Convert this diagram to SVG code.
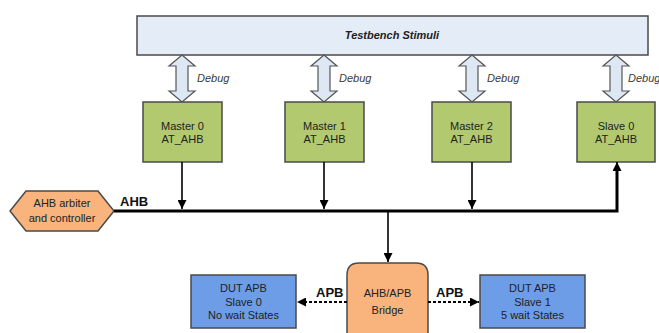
<svg xmlns="http://www.w3.org/2000/svg" width="659" height="333" viewBox="0 0 659 333">
<defs>
<style>
text{font-family:"Liberation Sans",Arial,sans-serif;fill:#222;}
.box{stroke:#4a4a4a;stroke-width:1.5;}
.green{fill:#b2c970;}
.blue{fill:#6d9de6;}
.orange{fill:#f8b47c;}
.lbl{font-size:11px;text-anchor:middle;}
.dbg{font-size:11px;font-style:italic;fill:#3a3a3a;}
.bold{font-size:13px;font-weight:bold;fill:#111;}
.dbl{fill:#dde8f4;stroke:#555;stroke-width:1.2;}
.wire{stroke:#000;stroke-width:1.6;fill:none;}
.dash{stroke:#000;stroke-width:2;stroke-dasharray:3,2;fill:none;}
</style>
<marker id="ah2" viewBox="0 0 10 10" refX="10" refY="5" markerWidth="9" markerHeight="9" markerUnits="userSpaceOnUse" orient="auto">
<path d="M0,0 L10,5 L0,10 z" fill="#000"/>
</marker>
<path id="darrow" d="M0,0 L13,11 L6,11 L6,36 L13,36 L0,47 L-13,36 L-6,36 L-6,11 L-13,11 z"/>
</defs>

<g id="testbench">
<rect class="box" x="137" y="16" width="511" height="39" fill="#e4ecf7"/>
<text x="392" y="39" font-size="11" font-weight="bold" font-style="italic" text-anchor="middle">Testbench Stimuli</text>
</g>

<g id="debug-links">
<use href="#darrow" class="dbl" x="182" y="55"/>
<use href="#darrow" class="dbl" x="324" y="55"/>
<use href="#darrow" class="dbl" x="472" y="55"/>
<use href="#darrow" class="dbl" x="616" y="55"/>
<text class="dbg" x="197" y="82">Debug</text>
<text class="dbg" x="339" y="82">Debug</text>
<text class="dbg" x="487" y="82">Debug</text>
<text class="dbg" x="628" y="82">Debug</text>
</g>

<g id="master0">
<rect class="box green" x="143" y="102" width="79" height="60"/>
<text class="lbl" x="182.5" y="130">Master 0</text>
<text class="lbl" x="182.5" y="143">AT_AHB</text>
</g>
<g id="master1">
<rect class="box green" x="285" y="102" width="79" height="60"/>
<text class="lbl" x="324.5" y="130">Master 1</text>
<text class="lbl" x="324.5" y="143">AT_AHB</text>
</g>
<g id="master2">
<rect class="box green" x="432" y="102" width="79" height="60"/>
<text class="lbl" x="471.5" y="130">Master 2</text>
<text class="lbl" x="471.5" y="143">AT_AHB</text>
</g>
<g id="slave0">
<rect class="box green" x="577" y="102" width="78" height="60"/>
<text class="lbl" x="616" y="130">Slave 0</text>
<text class="lbl" x="616" y="143">AT_AHB</text>
</g>

<g id="arbiter">
<polygon class="box orange" points="10,211 26,191 98,191 114,211 98,231 26,231"/>
<text class="lbl" x="62" y="207">AHB arbiter</text>
<text class="lbl" x="62" y="222">and controller</text>
</g>

<g id="bridge">
<path class="box orange" d="M347,340 L347,275 Q347,263 359,263 L416,263 Q428,263 428,275 L428,340"/>
<text class="lbl" x="387.5" y="297">AHB/APB</text>
<text class="lbl" x="387.5" y="314">Bridge</text>
</g>

<g id="dut0">
<rect class="box blue" x="191" y="275" width="105" height="53"/>
<text class="lbl" x="243.5" y="292">DUT APB</text>
<text class="lbl" x="243.5" y="306">Slave 0</text>
<text class="lbl" x="243.5" y="319">No wait States</text>
</g>
<g id="dut1">
<rect class="box blue" x="480" y="275" width="105" height="53"/>
<text class="lbl" x="532.5" y="292">DUT APB</text>
<text class="lbl" x="532.5" y="306">Slave 1</text>
<text class="lbl" x="532.5" y="319">5 wait States</text>
</g>

<g id="connectors">
<polyline points="114,211 617,211 617,170" stroke="#000" stroke-width="3" fill="none"/>
<line x1="617" y1="175" x2="617" y2="162" class="wire" marker-end="url(#ah2)"/>
<line class="wire" x1="182" y1="162" x2="182" y2="209" marker-end="url(#ah2)"/>
<line class="wire" x1="324" y1="162" x2="324" y2="209" marker-end="url(#ah2)"/>
<line class="wire" x1="472" y1="162" x2="472" y2="209" marker-end="url(#ah2)"/>
<line class="wire" x1="388" y1="212" x2="388" y2="262" marker-end="url(#ah2)"/>
<line class="dash" x1="347" y1="302" x2="297" y2="302" marker-end="url(#ah2)"/>
<line class="dash" x1="428" y1="302" x2="479" y2="302" marker-end="url(#ah2)"/>
<text class="bold" x="120" y="206">AHB</text>
<text class="bold" x="316" y="297">APB</text>
<text class="bold" x="436" y="297">APB</text>
</g>
</svg>
